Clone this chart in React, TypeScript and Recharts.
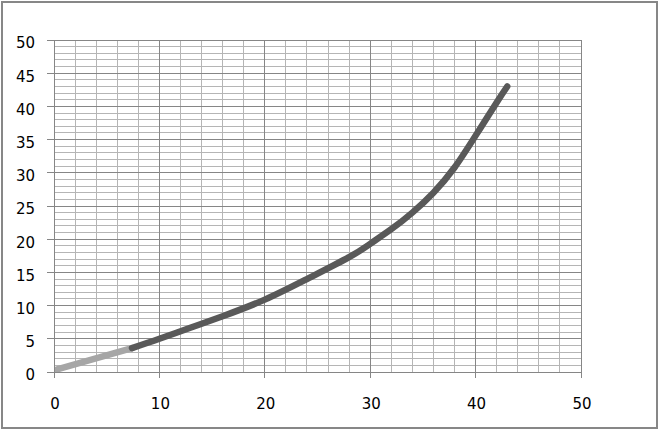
import React from "react";
import { LineChart, Line, XAxis, YAxis, CartesianGrid } from "recharts";

const lightX = [0.3, 7.4];
const lightY = [0.4, 3.6];

const darkX = [7.4, 10, 13, 16, 20, 24, 28, 30, 32, 34, 36, 38, 40, 42, 43];
const darkY = [3.6, 5.0, 6.7, 8.4, 10.9, 14.0, 17.3, 19.3, 21.5, 24.0, 27.0, 30.8, 35.6, 40.6, 43.0];

const xTicks = [0, 10, 20, 30, 40, 50];
const yTicks = [0, 5, 10, 15, 20, 25, 30, 35, 40, 45, 50];
const xMinor = [0, 2, 4, 6, 8, 10, 12, 14, 16, 18, 20, 22, 24, 26, 28, 30, 32, 34, 36, 38, 40, 42, 44, 46, 48, 50];
const yMinor = [
  0, 1, 2, 3, 4, 5, 6, 7, 8, 9, 10, 11, 12, 13, 14, 15, 16, 17, 18, 19, 20, 21, 22, 23, 24, 25,
  26, 27, 28, 29, 30, 31, 32, 33, 34, 35, 36, 37, 38, 39, 40, 41, 42, 43, 44, 45, 46, 47, 48, 49, 50,
];
const X_DOMAIN: [number, number] = [0, 50];
const Y_DOMAIN: [number, number] = [0, 50];

const lightData = lightX.map((x, i) => ({ x, y: lightY[i] }));
const darkData = darkX.map((x, i) => ({ x, y: darkY[i] }));

const FONT = "'DejaVu Sans', sans-serif";

const makeH = (values: number[]) => (args: any) => {
  const { yAxis, offset } = args || {};
  const sc = yAxis && typeof yAxis.scale === "function" ? yAxis.scale : null;
  return values.map((v) =>
    sc ? sc(v) : offset.top + offset.height * (1 - (v - Y_DOMAIN[0]) / (Y_DOMAIN[1] - Y_DOMAIN[0]))
  );
};
const makeV = (values: number[]) => (args: any) => {
  const { xAxis, offset } = args || {};
  const sc = xAxis && typeof xAxis.scale === "function" ? xAxis.scale : null;
  return values.map((v) =>
    sc ? sc(v) : offset.left + offset.width * ((v - X_DOMAIN[0]) / (X_DOMAIN[1] - X_DOMAIN[0]))
  );
};

const YTick = (props: any) => {
  const { x, y, payload } = props;
  return (
    <text x={x} y={y + 3} dy="0.355em" textAnchor="end" fontFamily={FONT} fontSize={15} fill="#000">
      {payload.value}
    </text>
  );
};

const XTick = (props: any) => {
  const { x, y, payload } = props;
  return (
    <text x={x + 1} y={y} dy="0.71em" textAnchor="middle" fontFamily={FONT} fontSize={15} fill="#000">
      {payload.value}
    </text>
  );
};

const css = `
.recharts-cartesian-grid line, .recharts-cartesian-axis-line, .recharts-cartesian-axis-tick-line {
  shape-rendering: crispEdges;
}
`;

export default function App() {
  return (
    <div style={{ position: "fixed", left: 0, top: 0, width: 658, height: 429, background: "#fff" }}>
      <style>{css}</style>
      <LineChart
        width={658}
        height={429}
        margin={{ top: 40, right: 77, bottom: 0, left: 0 }}
      >
        <CartesianGrid
          stroke="#b5b5b5"
          strokeWidth={1}
          horizontalCoordinatesGenerator={makeH(yMinor)}
          verticalCoordinatesGenerator={makeV(xMinor)}
        />
        <CartesianGrid
          stroke="#868686"
          strokeWidth={1}
          horizontalCoordinatesGenerator={makeH(yTicks)}
          verticalCoordinatesGenerator={makeV(xTicks)}
        />
        <XAxis
          type="number"
          dataKey="x"
          domain={X_DOMAIN}
          ticks={xTicks}
          allowDataOverflow
          height={57}
          tickSize={6}
          tickMargin={20}
          tickLine={{ stroke: "#868686" }}
          axisLine={{ stroke: "#868686" }}
          tick={<XTick />}
        />
        <YAxis
          type="number"
          dataKey="y"
          domain={Y_DOMAIN}
          ticks={yTicks}
          allowDataOverflow
          width={54}
          tickSize={7}
          tickMargin={12}
          tickLine={{ stroke: "#868686" }}
          axisLine={{ stroke: "#868686" }}
          tick={<YTick />}
        />
        <Line
          data={lightData}
          dataKey="y"
          type="linear"
          stroke="#a6a6a6"
          strokeWidth={6.5}
          strokeLinecap="round"
          dot={false}
          isAnimationActive={false}
        />
        <Line
          data={darkData}
          dataKey="y"
          type="natural"
          stroke="#595959"
          strokeWidth={6.5}
          strokeLinecap="round"
          dot={false}
          isAnimationActive={false}
        />
      </LineChart>
      <div
        style={{
          position: "absolute",
          left: 1,
          top: 1,
          width: 657,
          height: 428,
          boxSizing: "border-box",
          border: "2px solid #878787",
          pointerEvents: "none",
        }}
      />
    </div>
  );
}
